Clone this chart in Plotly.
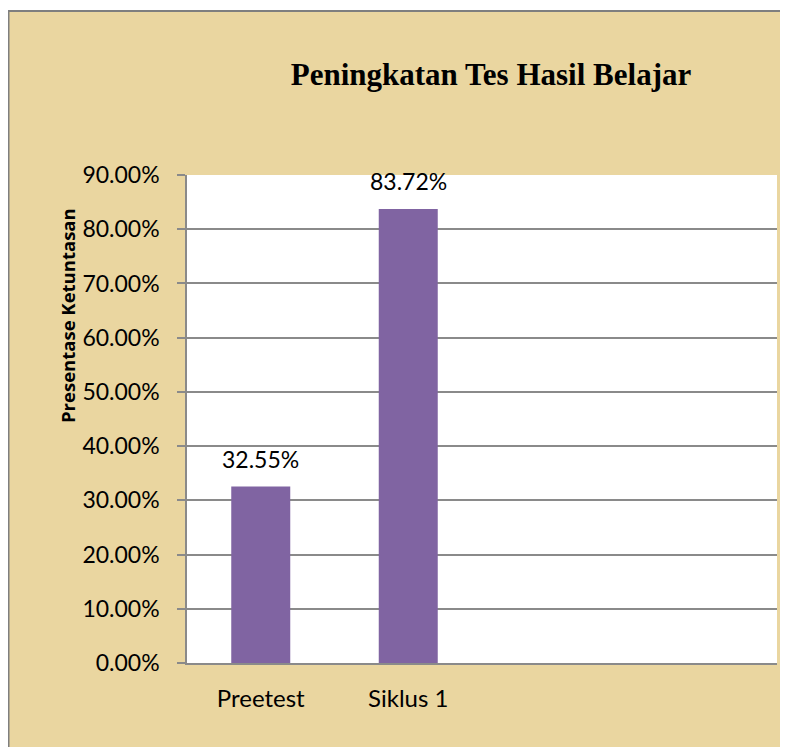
import plotly.graph_objects as go

categories = ["Preetest", "Siklus 1"]
values = [0.3255, 0.8372]
title_text = "Peningkatan Tes Hasil Belajar"
y_title = "Presentase Ketuntasan"

# page offset (body margin) compensation
OFF = 8
W, H = 788 - OFF, 747 - OFF
L, R, T, B = 187 - OFF, W - (777 - OFF), 175 - OFF, H - (663 - OFF)
pw, ph = W - L - R, H - T - B

def px_x(x):
    return (x - OFF - L) / pw

def px_y(y):
    return (H - B - (y - OFF)) / ph

BAR = "#8064A2"
GRID = "#8a8a8a"
TAN = "#EAD6A0"
FONT = "Lato"

fig = go.Figure()
fig.add_trace(go.Bar(x=categories, y=values, marker=dict(color=BAR, line=dict(width=0)),
                     hoverinfo="skip"))

for c, v in zip(categories, values):
    fig.add_annotation(x=c, y=v, xref="x", yref="y", text=f"{v*100:.2f}%",
                       showarrow=False, yanchor="bottom", yshift=12,
                       font=dict(family=FONT, size=23, color="#000000"))

fig.add_annotation(x=px_x(67), y=px_y(315), xref="paper", yref="paper",
                   text=f"<b>{y_title}</b>", textangle=-90, showarrow=False,
                   xanchor="center", yanchor="middle",
                   font=dict(family="Open Sans", size=18.5, color="#000000"))

# white strip above the panel, then the panel border (closed path inside the figure)
fig.add_shape(type="rect", xref="paper", yref="paper", layer="below",
              x0=px_x(8), x1=px_x(788), y0=px_y(11), y1=px_y(8),
              fillcolor="#ffffff", line=dict(width=0))
fig.add_shape(type="path", xref="paper", yref="paper", layer="below",
              path=f"M {px_x(8.5)},{px_y(747)} L {px_x(8.5)},{px_y(11)} L {px_x(788)},{px_y(11)}",
              line=dict(color="#7f7f7f", width=2))

fig.update_layout(
    width=W, height=H,
    margin=dict(l=L, r=R, t=T, b=B),
    paper_bgcolor=TAN,
    plot_bgcolor="#ffffff",
    showlegend=False,
    bargap=0.6,
    title=dict(text=f"<b>{title_text}</b>", x=(491 - OFF) / W, xanchor="center",
               y=1 - (74 - OFF) / H, yanchor="middle", yref="container",
               font=dict(family="Liberation Serif", size=31, color="#000000")),
    xaxis=dict(type="category", range=[-0.5, 3.5], showgrid=False,
               showline=True, linecolor=GRID, linewidth=2,
               ticks="", ticklabelstandoff=13,
               tickfont=dict(family=FONT, size=24, color="#000000"),
               fixedrange=True),
    yaxis=dict(range=[0, 0.9], dtick=0.1, tick0=0, tickformat=".2%",
               showgrid=True, gridcolor=GRID, gridwidth=2,
               showline=True, linecolor=GRID, linewidth=1.5,
               zeroline=False,
               ticks="outside", ticklen=8, tickwidth=2, tickcolor=GRID,
               ticklabelstandoff=13,
               tickfont=dict(family=FONT, size=23, color="#000000"),
               fixedrange=True),
)

fig.write_html("out.html", config={"displayModeBar": False})
